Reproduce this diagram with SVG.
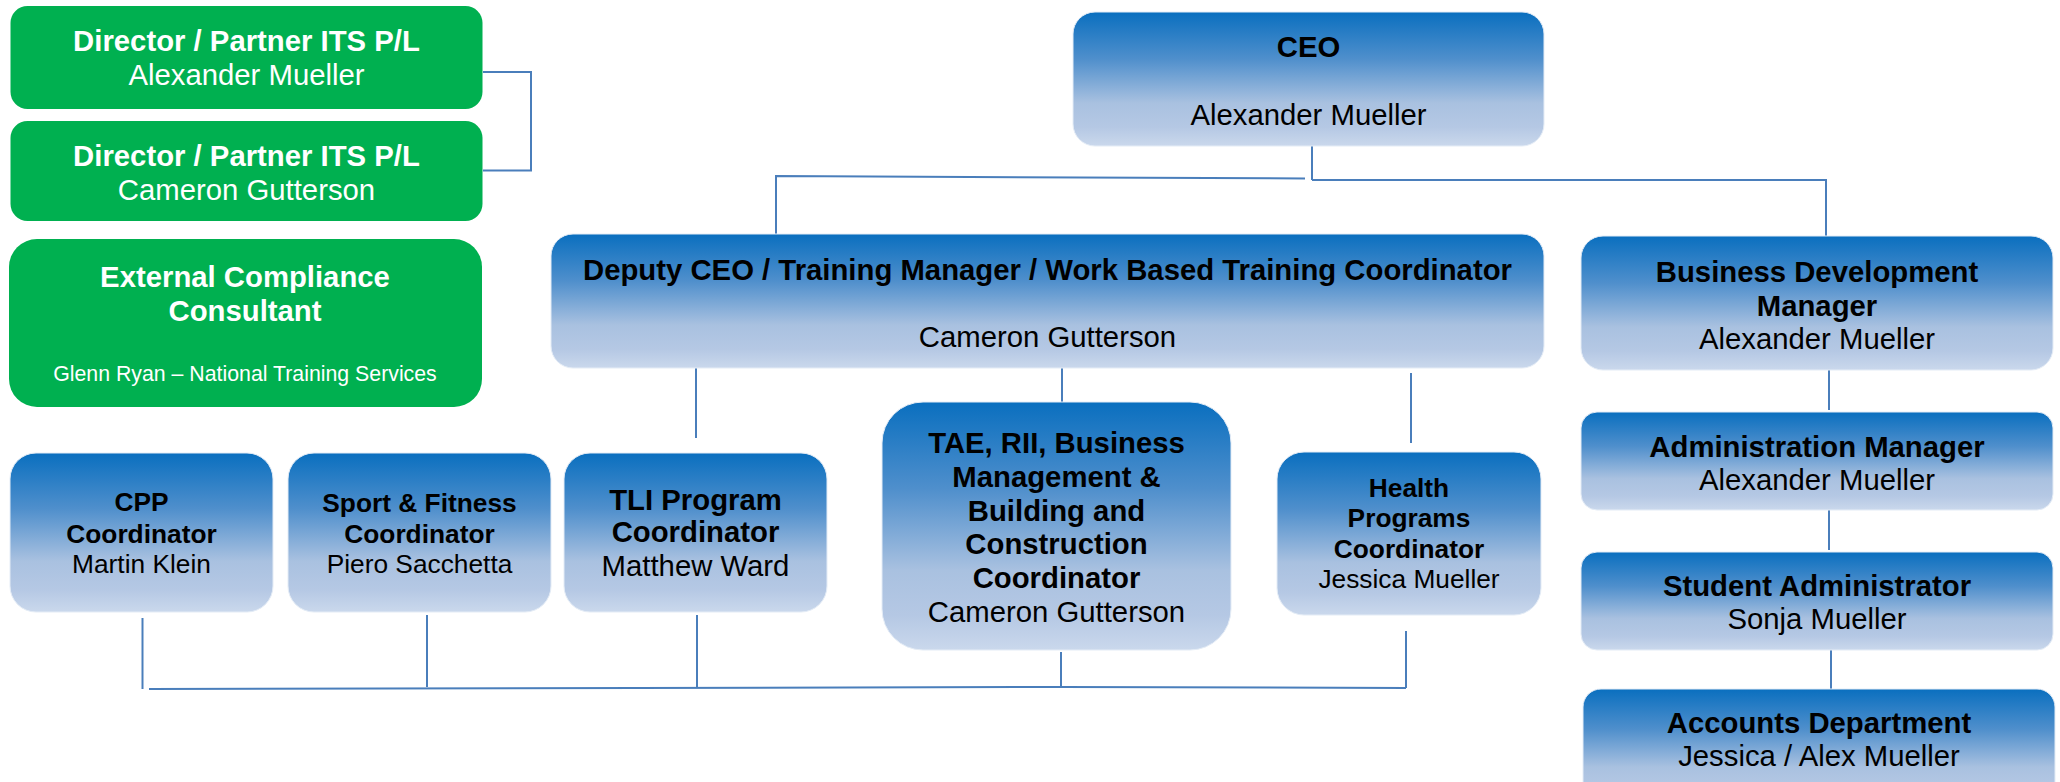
<svg xmlns="http://www.w3.org/2000/svg" width="2060" height="782" viewBox="0 0 2060 782">
<defs>
<linearGradient id="blue" x1="0" y1="0" x2="0" y2="1">
<stop offset="0" stop-color="#0A6FBF"/>
<stop offset="0.35" stop-color="#4F8FCC"/>
<stop offset="0.68" stop-color="#A9C1E0"/>
<stop offset="0.86" stop-color="#B5C8E4"/>
<stop offset="1" stop-color="#CAD8EC"/>
</linearGradient>
</defs>
<style>
.g{fill:#00B050}
.b{fill:url(#blue);stroke:#E4ECF6;stroke-width:1}
text{font-family:"Liberation Sans",Arial,sans-serif;text-anchor:middle;font-size:29.3px;fill:#000}
.w{fill:#fff}
.bd{font-weight:bold}
.s{font-size:26.3px}
.xs{font-size:21.3px}
.c{fill:none;stroke:#4A7EBB;stroke-width:2}
</style>
<rect width="2060" height="782" fill="#fff"/>
<g id="connectors">
<path class="c" d="M483 72 H531 V170.5 H483"/>
<path class="c" d="M1312 146 V180"/>
<path class="c" d="M776 234 V176 L1305 178.5"/>
<path class="c" d="M1312 180 H1826 V236"/>
<path class="c" d="M696 368 V438"/>
<path class="c" d="M1062 368 V402"/>
<path class="c" d="M1411 373 V443"/>
<path class="c" d="M1829 370 V410"/>
<path class="c" d="M1829 510 V550"/>
<path class="c" d="M1831 650 V689"/>
<path class="c" d="M142.5 618 V689"/>
<path class="c" d="M149 689 L1062 687 L1406 688"/>
<path class="c" d="M427 615 V687"/>
<path class="c" d="M697 615 V687"/>
<path class="c" d="M1061 652 V687"/>
<path class="c" d="M1406 631 V688"/>
</g>
<g id="director1">
<rect class="g" x="10.5" y="6" width="472" height="103" rx="17"/>
<text class="w bd" x="246.5" y="51">Director / Partner ITS P/L</text>
<text class="w" x="246.5" y="85">Alexander Mueller</text>
</g>
<g id="director2">
<rect class="g" x="10.5" y="121" width="472" height="100" rx="17"/>
<text class="w bd" x="246.5" y="166">Director / Partner ITS P/L</text>
<text class="w" x="246.5" y="200">Cameron Gutterson</text>
</g>
<g id="external">
<rect class="g" x="9" y="239" width="473" height="168" rx="28"/>
<text class="w bd" x="245" y="287">External Compliance</text>
<text class="w bd" x="245" y="321">Consultant</text>
<text class="w xs" x="245" y="381">Glenn Ryan – National Training Services</text>
</g>
<g id="ceo">
<rect class="b" x="1073" y="12" width="471" height="134" rx="22"/>
<text class="bd" x="1308.5" y="57">CEO</text>
<text x="1308.5" y="125">Alexander Mueller</text>
</g>
<g id="deputy">
<rect class="b" x="551" y="234" width="993" height="134" rx="22"/>
<text class="bd" x="1047.5" y="280">Deputy CEO / Training Manager / Work Based Training Coordinator</text>
<text x="1047.5" y="347">Cameron Gutterson</text>
</g>
<g id="bdm">
<rect class="b" x="1581" y="236" width="472" height="134" rx="22"/>
<text class="bd" x="1817" y="282">Business Development</text>
<text class="bd" x="1817" y="316">Manager</text>
<text x="1817" y="349">Alexander Mueller</text>
</g>
<g id="admin">
<rect class="b" x="1581" y="412" width="472" height="98" rx="16"/>
<text class="bd" x="1817" y="457">Administration Manager</text>
<text x="1817" y="490">Alexander Mueller</text>
</g>
<g id="student">
<rect class="b" x="1581" y="552" width="472" height="98" rx="16"/>
<text class="bd" x="1817" y="596">Student Administrator</text>
<text x="1817" y="629">Sonja Mueller</text>
</g>
<g id="accounts">
<rect class="b" x="1583" y="689" width="472" height="115" rx="18"/>
<text class="bd" x="1819" y="733">Accounts Department</text>
<text x="1819" y="766">Jessica / Alex Mueller</text>
</g>
<g id="cpp">
<rect class="b" x="10" y="453" width="263" height="159" rx="26"/>
<text class="bd s" x="141.5" y="511">CPP</text>
<text class="bd s" x="141.5" y="542.5">Coordinator</text>
<text class="s" x="141.5" y="572.5">Martin Klein</text>
</g>
<g id="sport">
<rect class="b" x="288" y="453" width="263" height="159" rx="26"/>
<text class="bd s" x="419.5" y="511.5">Sport &amp; Fitness</text>
<text class="bd s" x="419.5" y="542.5">Coordinator</text>
<text class="s" x="419.5" y="572.5">Piero Sacchetta</text>
</g>
<g id="tli">
<rect class="b" x="564" y="453" width="263" height="159" rx="26"/>
<text class="bd" x="695.5" y="510">TLI Program</text>
<text class="bd" x="695.5" y="542">Coordinator</text>
<text x="695.5" y="576">Matthew Ward</text>
</g>
<g id="tae">
<rect class="b" x="882" y="402" width="349" height="248" rx="41"/>
<text class="bd" x="1056.5" y="453">TAE, RII, Business</text>
<text class="bd" x="1056.5" y="487">Management &amp;</text>
<text class="bd" x="1056.5" y="521">Building and</text>
<text class="bd" x="1056.5" y="554">Construction</text>
<text class="bd" x="1056.5" y="587.5">Coordinator</text>
<text x="1056.5" y="621.5">Cameron Gutterson</text>
</g>
<g id="health">
<rect class="b" x="1277" y="452" width="264" height="163" rx="27"/>
<text class="bd s" x="1409" y="497">Health</text>
<text class="bd s" x="1409" y="527">Programs</text>
<text class="bd s" x="1409" y="557.5">Coordinator</text>
<text class="s" x="1409" y="587.5">Jessica Mueller</text>
</g>
</svg>
